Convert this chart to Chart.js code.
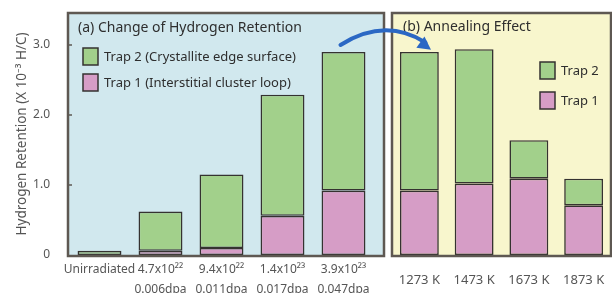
<!DOCTYPE html>
<html><head><meta charset="utf-8">
<script src="https://cdn.jsdelivr.net/npm/chart.js@4.4.1/dist/chart.umd.min.js"></script>
<style>
html,body{margin:0;padding:0;background:#fff;width:612px;height:293px;overflow:hidden}
canvas{position:absolute;top:0}
#a{left:0}#b{left:388px}#ov{left:0;pointer-events:none}
</style></head><body>
<canvas id="a" width="388" height="293"></canvas>
<canvas id="b" width="224" height="293"></canvas>
<canvas id="ov" width="612" height="293"></canvas>
<script>
// ---- data ----
const leftCategories = [['Unirradiated'], ['4.7x10²²','0.006dpa'], ['9.4x10²²','0.011dpa'], ['1.4x10²³','0.017dpa'], ['3.9x10²³','0.047dpa']];
const leftTrap1 = [null, 0.06, 0.10, 0.56, 0.92];
const leftTrap2 = [0.06, 0.56, 1.05, 1.73, 1.98];
const rightCategories = ['1273 K', '1473 K', '1673 K', '1873 K'];
const rightTrap1 = [0.92, 1.02, 1.09, 0.71];
const rightTrap2 = [1.98, 1.92, 0.55, 0.38];
const yTicks = [0, 1, 2, 3];
const yTickLabels = ['0', '1.0', '2.0', '3.0'];
const yTitle = 'Hydrogen Retention (X 10⁻³ H/C)';
const leftTitle = '(a) Change of Hydrogen Retention';
const rightTitle = '(b) Annealing Effect';
const leftLegend = ['Trap 2 (Crystallite edge surface)', 'Trap 1 (Interstitial cluster loop)'];
const rightLegend = ['Trap 2', 'Trap 1'];

const GREEN = '#a2d08b', PINK = '#d69dc6', EDGE = '#353230';
const FONT = '"Noto Sans", "Liberation Sans", Arial, sans-serif';
const YMAX = 3.457;

const panelPlugin = {
  id: 'panel',
  beforeDatasetsDraw(chart, args, o) {
    const {ctx, chartArea: a} = chart;
    ctx.save();
    ctx.fillStyle = o.bg;
    ctx.fillRect(a.left - o.padL, a.top, a.right - a.left + o.padL + o.padR, a.bottom - a.top);
    ctx.restore();
  },
  afterDatasetsDraw(chart, args, o) {
    const {ctx, chartArea: a} = chart;
    ctx.save();
    ctx.strokeStyle = '#5e5852';
    ctx.lineWidth = 2.5;
    ctx.strokeRect(a.left - o.padL, a.top, a.right - a.left + o.padL + o.padR, a.bottom - a.top + 1);
    if (o.ticks) {
      const ys = chart.scales.y;
      ctx.lineWidth = 1.5;
      yTicks.forEach(v => {
        if (v === 0) return;
        const y = ys.getPixelForValue(v);
        ctx.beginPath(); ctx.moveTo(a.left - o.padL, y); ctx.lineTo(a.left - o.padL + 4, y); ctx.stroke();
      });
    }
    ctx.fillStyle = '#2e2e2e';
    ctx.font = o.titleSize + 'px ' + FONT;
    ctx.textBaseline = 'middle';
    ctx.fillText(o.title, a.left - o.padL + o.titleX, a.top + o.titleY);
    const ds = [chart.data.datasets[1], chart.data.datasets[0]];
    ds.forEach((d, i) => {
      const y = a.top + o.legY + i * o.legDy;
      ctx.fillStyle = d.backgroundColor;
      ctx.fillRect(a.left - o.padL + o.legX, y, 15, 17);
      ctx.strokeStyle = EDGE; ctx.lineWidth = 1.5;
      ctx.strokeRect(a.left - o.padL + o.legX, y, 15, 17);
      ctx.fillStyle = '#2e2e2e';
      ctx.font = o.legSize + 'px ' + FONT;
      ctx.fillText(o.legend[i], a.left - o.padL + o.legX + 21, y + 9);
    });
    ctx.restore();
  }
};

function makeChart(id, labels, t1, t2, opts) {
  return new Chart(document.getElementById(id), {
    type: 'bar',
    data: {
      labels,
      datasets: [
        {label: 'Trap 1', data: t1, backgroundColor: PINK, borderColor: EDGE, borderWidth: 1.6, borderSkipped: false},
        {label: 'Trap 2', data: t2, backgroundColor: GREEN, borderColor: EDGE, borderWidth: 1.6, borderSkipped: false}
      ]
    },
    options: {
      responsive: false,
      animation: false,
      layout: {padding: opts.padding},
      datasets: {bar: {categoryPercentage: 1, barPercentage: opts.barPct}},
      plugins: {legend: {display: false}, tooltip: {enabled: false}, panel: opts.panel},
      scales: {
        x: {
          stacked: true,
          grid: {display: false, drawTicks: false},
          border: {display: false},
          afterFit: s => { s.height = 38; s.paddingLeft = 0; s.paddingRight = 0; },
          ticks: {color: '#555', font: {family: FONT, size: opts.xFont, lineHeight: opts.xLH}, padding: opts.xPad, maxRotation: 0, autoSkip: false}
        },
        y: {
          stacked: true,
          min: 0, max: YMAX,
          display: opts.showY,
          grid: {display: false, drawTicks: false},
          border: {display: false},
          afterBuildTicks: s => { s.ticks = yTicks.map(v => ({value: v})); },
          afterFit: s => { if (opts.showY) s.width = 69; s.paddingTop = 0; s.paddingBottom = 0; },
          ticks: {
            color: '#555', font: {family: FONT, size: 12}, padding: 19,
            callback: v => yTickLabels[yTicks.indexOf(v)]
          },
          title: {display: opts.showY, text: yTitle, color: '#555', font: {family: FONT, size: 13.5}, padding: {top: 14, bottom: 0}}
        }
      }
    },
    plugins: [panelPlugin]
  });
}

const ca = makeChart('a', leftCategories, leftTrap1, leftTrap2, {
  padding: {top: 13, right: 14, left: 0, bottom: 0}, barPct: 0.72, showY: true, xFont: 12, xLH: 1.65, xPad: 5,
  panel: {bg: '#d1e8ee', padL: 1, padR: 10, ticks: true, title: leftTitle, titleSize: 14, titleX: 10, titleY: 15, legend: leftLegend, legSize: 13, legX: 15, legY: 35, legDy: 26}
});
const cb = makeChart('b', rightCategories, rightTrap1, rightTrap2, {
  padding: {top: 13, right: 1, left: 4, bottom: 0}, barPct: 0.71, showY: false, xFont: 13, xLH: 1.6, xPad: 15,
  panel: {bg: '#f8f6cd', padL: 0, padR: 0, ticks: false, title: rightTitle, titleSize: 14, titleX: 11, titleY: 14, legend: rightLegend, legSize: 13, legX: 148, legY: 49, legDy: 30}
});

// curved arrow linking the last bar of (a) to the first bar of (b)
(function () {
  const ctx = document.getElementById('ov').getContext('2d');
  const offB = 388;
  const x0 = ca.scales.x.getPixelForValue(4) - 3;
  const y0 = ca.scales.y.getPixelForValue(3.0);
  const x1 = cb.scales.x.getPixelForValue(0) + offB + 10;
  const y1 = cb.scales.y.getPixelForValue(2.95);
  const cx = (x0 + x1) / 2, cy = y0 - 28;
  ctx.strokeStyle = '#2b68c4'; ctx.fillStyle = '#2b68c4';
  ctx.lineWidth = 4; ctx.lineCap = 'round';
  ctx.beginPath(); ctx.moveTo(x0, y0); ctx.quadraticCurveTo(cx, cy, x1 - 4, y1 - 6); ctx.stroke();
  const a2 = Math.atan2(y1 - cy, x1 - cx);
  ctx.beginPath();
  ctx.moveTo(x1 + 2 * Math.cos(a2), y1 + 2 * Math.sin(a2));
  ctx.lineTo(x1 - 11 * Math.cos(a2) + 7 * Math.sin(a2), y1 - 11 * Math.sin(a2) - 7 * Math.cos(a2));
  ctx.lineTo(x1 - 11 * Math.cos(a2) - 7 * Math.sin(a2), y1 - 11 * Math.sin(a2) + 7 * Math.cos(a2));
  ctx.closePath(); ctx.fill();
})();
</script>
</body></html>
